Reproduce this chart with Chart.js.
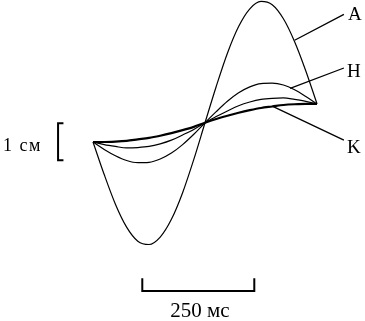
<!DOCTYPE html>
<html>
<head>
<meta charset="utf-8">
<script src="https://cdn.jsdelivr.net/npm/chart.js@4"></script>
<style>
  html, body { margin: 0; padding: 0; background: #fff; }
  #wrap { width: 365px; height: 321px; }
</style>
</head>
<body>
<div id="wrap"><canvas id="myChart"></canvas></div>
<script>
// время, мс
var times = [0, 25, 50, 75, 100, 125, 150, 175, 200, 225, 250, 275, 300, 325, 350, 375, 400, 425, 450, 475, 500];
// отклонение, см
var curveA = [0, -0.88, -1.68, -2.30, -2.68, -2.77, -2.57, -2.09, -1.37, -0.47, 0.52, 1.50, 2.40, 3.12, 3.60, 3.80, 3.71, 3.33, 2.71, 1.92, 1.03];
var curveH = [0, -0.20, -0.37, -0.50, -0.56, -0.55, -0.46, -0.30, -0.07, 0.21, 0.52, 0.82, 1.10, 1.33, 1.49, 1.58, 1.59, 1.54, 1.41, 1.23, 1.03];
var curveMid = [0, -0.07, -0.12, -0.16, -0.15, -0.12, -0.05, 0.05, 0.19, 0.34, 0.52, 0.69, 0.84, 0.98, 1.08, 1.15, 1.18, 1.19, 1.15, 1.10, 1.03];
var curveK = [0, 0.00, 0.01, 0.03, 0.07, 0.11, 0.17, 0.24, 0.32, 0.41, 0.52, 0.62, 0.71, 0.79, 0.86, 0.92, 0.96, 1.00, 1.02, 1.03, 1.03];
var curveLabels = ['A', 'H', 'K'];
var scaleLabels = ['1 см', '250 мс'];

function pts(arr) {
    return arr.map(function(v, i) { return { x: times[i], y: v }; });
}

function line(arr, w) {
    return {
        data: pts(arr),
        borderColor: '#000',
        borderWidth: w,
        pointRadius: 0,
        fill: false,
        cubicInterpolationMode: 'monotone'
    };
}

// подписи, выноски и масштабные отрезки
var notes = {
    id: 'notes',
    afterDatasetsDraw: function(chart) {
        var ctx = chart.ctx;
        var xs = chart.scales.x, ys = chart.scales.y;
        var X = function(v) { return xs.getPixelForValue(v); };
        var Y = function(v) { return ys.getPixelForValue(v); };
        ctx.save();
        ctx.strokeStyle = '#000';
        ctx.fillStyle = '#000';
        ctx.lineWidth = 1.3;

        // выноски
        ctx.beginPath();
        ctx.moveTo(X(450), Y(2.75)); ctx.lineTo(X(560), Y(3.45));
        ctx.moveTo(X(440), Y(1.45)); ctx.lineTo(X(560), Y(2.0));
        ctx.moveTo(X(400), Y(0.97)); ctx.lineTo(X(560), Y(0.05));
        ctx.stroke();

        ctx.font = '19px "Liberation Serif"';
        ctx.textBaseline = 'alphabetic';
        ctx.textAlign = 'left';
        ctx.fillText(curveLabels[0], 348, 20);
        ctx.fillText(curveLabels[1], 347, 77);
        ctx.fillText(curveLabels[2], 347, 153);

        // 1 см
        ctx.lineWidth = 2;
        ctx.beginPath();
        ctx.moveTo(X(-66), Y(0.51)); ctx.lineTo(X(-78), Y(0.51));
        ctx.lineTo(X(-78), Y(-0.49)); ctx.lineTo(X(-66), Y(-0.49));
        ctx.stroke();
        ctx.font = '18px "Liberation Serif"';
        ctx.letterSpacing = '1.5px';
        ctx.fillText(scaleLabels[0], 3, 151);
        ctx.letterSpacing = '0px';

        // 250 мс
        ctx.beginPath();
        ctx.moveTo(X(110), Y(-3.68)); ctx.lineTo(X(110), Y(-4.03));
        ctx.lineTo(X(360), Y(-4.03)); ctx.lineTo(X(360), Y(-3.68));
        ctx.stroke();
        ctx.font = '21px "Liberation Serif"';
        ctx.textAlign = 'center';
        ctx.fillText(scaleLabels[1], 200, 317);
        ctx.restore();
    }
};

var ctx = document.getElementById('myChart').getContext('2d');
new Chart(ctx, {
    type: 'line',
    data: {
        datasets: [
            line(curveA, 1.2),
            line(curveH, 1.2),
            line(curveMid, 1.2),
            line(curveK, 2.2)
        ]
    },
    options: {
        responsive: true,
        maintainAspectRatio: false,
        animation: false,
        layout: { padding: 0 },
        plugins: { legend: { display: false }, tooltip: { enabled: false } },
        scales: {
            x: { type: 'linear', min: -207.6, max: 607.1, display: false },
            y: { type: 'linear', min: -4.838, max: 3.838, display: false }
        }
    },
    plugins: [notes]
});
</script>
</body>
</html>
